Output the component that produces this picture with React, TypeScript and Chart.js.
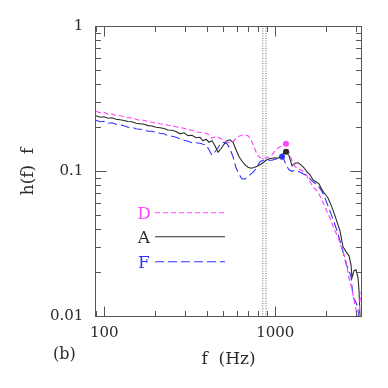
import React, { useEffect, useRef } from "react";
import { Chart, registerables } from "chart.js";

Chart.register(...registerables);

// Frequencies shared by the three curves below ~1 kHz (Hz)
const freqCommon = [
  89.4, 94.4, 99.6, 105.1, 110.9, 117.1, 123.6, 130.4, 137.6, 145.2, 153.2, 161.7, 170.7, 180.1,
  190.1, 200.6, 211.7, 223.4, 235.8, 248.9, 262.6, 277.2, 292.5, 308.7, 325.8, 343.9, 362.8,
  377.8, 393.3, 409.5, 426.4, 444.0, 462.3, 481.4, 501.2, 521.9, 543.4, 565.8, 589.1, 613.4,
  638.7, 665.0, 692.4, 721.0, 750.7, 781.6, 813.8, 847.4, 882.3, 918.7, 956.6, 996.0, 1037,
];

// Series D (magenta dashed)
const hCommonD = [
  0.2601, 0.2541, 0.2561, 0.2481, 0.2501, 0.2431, 0.2423, 0.2392, 0.2347, 0.234, 0.2292, 0.2256,
  0.2256, 0.2203, 0.2185, 0.2168, 0.2134, 0.2117, 0.2084, 0.2067, 0.2035, 0.2003, 0.1987, 0.194,
  0.1925, 0.1865, 0.1865,
  0.1835, 0.1835, 0.1792, 0.1696, 0.1736, 0.1722, 0.1682, 0.1642, 0.1604, 0.1566, 0.1604, 0.1696,
  0.175, 0.1778, 0.1792, 0.1764, 0.1655, 0.1481, 0.1315, 0.1244, 0.1234, 0.1244, 0.1264, 0.1305,
  0.139, 0.1446,
];
const freqTailD = [
  1080, 1124, 1155, 1203, 1252, 1304, 1358, 1414, 1472, 1532, 1596, 1661, 1730, 1801, 1875, 1953,
  2033, 2117, 2204, 2295, 2389, 2488, 2591, 2698, 2771, 2847, 2925, 3005, 3066, 3129, 3200,
];
const hTailD = [
  0.1493, 0.1529, 0.1554, 0.1347, 0.1185, 0.1086, 0.1044, 0.1027, 0.0995, 0.0934, 0.0849, 0.0783,
  0.075, 0.07, 0.0637, 0.057, 0.051, 0.0464, 0.0402, 0.0366, 0.0322, 0.028, 0.024, 0.0185, 0.0164,
  0.0141, 0.012, 0.0104, 0.0088, 0.013, 0.0153,
];

// Series A (black solid)
const hCommonA = [
  0.2423, 0.2365, 0.2384, 0.2328, 0.2347, 0.2292, 0.2274, 0.2245, 0.221, 0.2203, 0.2151, 0.2134,
  0.2117, 0.2073, 0.2061, 0.2019, 0.2003, 0.1977, 0.1934, 0.1925, 0.1885, 0.182, 0.185, 0.1769,
  0.1778, 0.1709, 0.1722,
  0.1629, 0.1668, 0.1591, 0.1629, 0.1505, 0.1358, 0.1435, 0.1541, 0.1629, 0.1655, 0.1591, 0.1413,
  0.1264, 0.1176, 0.1112, 0.107, 0.1053, 0.1065, 0.1086, 0.1112, 0.1148, 0.1195, 0.1225, 0.1234,
  0.1244, 0.1234,
];
const freqTailA = [
  1080, 1124, 1155, 1203, 1252, 1304, 1358, 1414, 1472, 1532, 1596, 1661, 1730, 1801, 1875, 1953,
  2033, 2117, 2204, 2295, 2389, 2488, 2591, 2698, 2771, 2809, 2886, 2965, 3046, 3087, 3129, 3171,
];
const hTailA = [
  0.1284, 0.1347, 0.1368, 0.1284, 0.1095, 0.1139, 0.1148, 0.1112, 0.1061, 0.0995, 0.0949, 0.0876,
  0.0849, 0.0822, 0.0747, 0.07, 0.0657, 0.0589, 0.0518, 0.0449, 0.039, 0.0302, 0.028, 0.0262,
  0.0228, 0.0185, 0.0207, 0.021, 0.0185, 0.0151, 0.00996, 0.0076,
];

// Series F (blue long dashes)
const hCommonF = [
  0.2256, 0.2203, 0.2221, 0.2151, 0.2168, 0.2117, 0.21, 0.2067, 0.2019, 0.2019, 0.1971, 0.1955,
  0.194, 0.1894, 0.1894, 0.1865, 0.1835, 0.182, 0.1764, 0.175, 0.1722, 0.1682, 0.1642, 0.1617,
  0.1578, 0.1578, 0.1566,
  0.1541, 0.1529, 0.1413, 0.1295, 0.1368, 0.1458, 0.1566, 0.1591, 0.1554, 0.1435, 0.1264, 0.1061,
  0.0957, 0.0887, 0.089, 0.0919, 0.0964, 0.1003, 0.1078, 0.1167, 0.1195, 0.1205, 0.1195, 0.1195,
  0.1215, 0.1234,
];
const freqTailF = [
  1094, 1124, 1155, 1203, 1252, 1304, 1358, 1414, 1472, 1532, 1596, 1661, 1730, 1801, 1875, 1953,
  2033, 2117, 2204, 2295, 2389, 2488, 2591, 2698, 2771, 2809, 2847, 2925, 3005, 3046, 3087, 3129,
];
const hTailF = [
  0.1264, 0.1205, 0.1112, 0.1027, 0.1003, 0.1019, 0.1003, 0.098, 0.0957, 0.0934, 0.089, 0.0849,
  0.0822, 0.0783, 0.0729, 0.0657, 0.0579, 0.051, 0.0449, 0.039, 0.0334, 0.028, 0.0231, 0.0207,
  0.0189, 0.016, 0.0137, 0.0129, 0.012, 0.011, 0.01, 0.0093,
];

// Peak markers (D, A, F)
const peakFreq = [1155, 1155, 1094];
const peakH = [0.1554, 0.1368, 0.1264];

// Vertical dotted reference lines (Hz)
const markerFreqs = [845, 882];

// Axis labels
const xTickLabels = [100, 1000];
const yTickLabels = [1, 0.1, 0.01];
const legendNames = ["D", "A", "F"];

const MAGENTA = "rgb(255,70,255)";
const BLACK = "#2b2b2b";
const BLUE = "rgb(50,50,255)";
const AXIS = "#555";
const TEXT = "#2a2a2a";
const FONT = "'DejaVu Serif', serif";

export default function App() {
  const ref = useRef<HTMLCanvasElement>(null);

  useEffect(() => {
    const canvas = ref.current;
    if (!canvas) return;
    const pts = (f: number[], h: number[]) => f.map((x, i) => ({ x, y: h[i] }));
    const dData = pts([...freqCommon, ...freqTailD], [...hCommonD, ...hTailD]);
    const aData = pts([...freqCommon, ...freqTailA], [...hCommonA, ...hTailA]);
    const fData = pts([...freqCommon, ...freqTailF], [...hCommonF, ...hTailF]);
    const colors = [MAGENTA, BLACK, BLUE];

    const decor = {
      id: "decor",
      afterDraw(chart: any) {
        const { ctx, chartArea: a, scales } = chart;
        const xs = scales.x;
        const ys = scales.y;
        const snap = (p: number) => Math.round(p - 0.5) + 0.5;
        ctx.save();
        ctx.strokeStyle = AXIS;
        ctx.lineWidth = 1;
        ctx.setLineDash([]);
        const seg = (x1: number, y1: number, x2: number, y2: number) => {
          ctx.beginPath();
          ctx.moveTo(x1, y1);
          ctx.lineTo(x2, y2);
          ctx.stroke();
        };
        // ticks on x (bottom & top)
        for (const dec of [10, 100, 1000]) {
          for (let m = 1; m < 10; m++) {
            const v = dec * m;
            if (v < xs.min || v > xs.max) continue;
            const px = snap(xs.getPixelForValue(v));
            const len = m === 1 ? 10 : 5.5;
            seg(px, a.bottom, px, a.bottom - len);
            seg(px, a.top, px, a.top + len);
          }
        }
        // ticks on y (left & right)
        for (const dec of [0.01, 0.1]) {
          for (let m = 1; m < 10; m++) {
            const v = dec * m;
            const py = snap(ys.getPixelForValue(v));
            const len = m === 1 ? 11 : 5.5;
            seg(a.left, py, a.left + len, py);
            seg(a.right, py, a.right - len, py);
          }
        }
        ctx.strokeRect(a.left, a.top, a.right - a.left, a.bottom - a.top);

        // legend
        const rows = [
          { y: 212.7, dash: [5, 3] },
          { y: 236.7, dash: [] },
          { y: 261.7, dash: [9, 4] },
        ];
        ctx.font = `17px ${FONT}`;
        ctx.textAlign = "center";
        ctx.textBaseline = "middle";
        rows.forEach((r, i) => {
          ctx.fillStyle = colors[i];
          ctx.fillText(legendNames[i], 144, r.y + 1.5);
          ctx.strokeStyle = colors[i];
          ctx.lineWidth = 1.1;
          ctx.setLineDash(r.dash);
          seg(155, r.y, 225, r.y);
        });
        ctx.setLineDash([]);
        // panel label
        ctx.fillStyle = TEXT;
        ctx.font = `16px ${FONT}`;
        ctx.textAlign = "left";
        ctx.fillText("(b)", 53, 355);
        ctx.restore();
      },
    };

    const isDecade = (v: number, list: number[]) =>
      list.some((t) => Math.abs(Math.log10(v) - Math.log10(t)) < 1e-6);

    const chart = new Chart(canvas, {
      type: "line",
      data: {
        datasets: [
          ...peakFreq.map((f, i) => ({
            data: [{ x: f, y: peakH[i] }],
            showLine: false,
            pointRadius: 3,
            pointBackgroundColor: colors[i],
            pointBorderColor: colors[i],
            pointBorderWidth: 0,
          })),
          {
            data: dData,
            borderColor: MAGENTA,
            borderWidth: 1.2,
            borderDash: [5, 3],
            pointRadius: 0,
            tension: 0,
          },
          {
            data: aData,
            borderColor: BLACK,
            borderWidth: 1.1,
            pointRadius: 0,
            tension: 0,
          },
          {
            data: fData,
            borderColor: BLUE,
            borderWidth: 1.1,
            borderDash: [9, 4],
            pointRadius: 0,
            tension: 0,
          },
          ...markerFreqs.map((f) => ({
            data: [
              { x: f, y: 0.01 },
              { x: f, y: 1 },
            ],
            borderColor: "#707070",
            borderWidth: 1,
            borderDash: [1, 1.5],
            pointRadius: 0,
          })),
        ],
      } as any,
      options: {
        animation: false,
        responsive: false,
        events: [],
        layout: { padding: { left: 0, top: 26.5, right: 26.5, bottom: 0 } },
        plugins: { legend: { display: false }, tooltip: { enabled: false } },
        scales: {
          x: {
            type: "logarithmic",
            min: 88.8,
            max: 3192,
            position: "bottom",
            grid: { display: false, drawTicks: false },
            border: { display: false },
            afterFit: (s: any) => {
              s.height = 71.5;
            },
            ticks: {
              autoSkip: false,
              maxRotation: 0,
              minRotation: 0,
              padding: 8,
              color: TEXT,
              font: { family: FONT, size: 15 },
              callback: (v: any) => (isDecade(Number(v), xTickLabels) ? String(Number(v)) : ""),
            },
            title: {
              display: true,
              text: "f  (Hz)",
              color: TEXT,
              font: { family: FONT, size: 17 },
              padding: { top: 0, bottom: 17.8 },
            },
          },
          y: {
            type: "logarithmic",
            min: 0.01,
            max: 1,
            position: "left",
            grid: { display: false, drawTicks: false },
            border: { display: false },
            afterFit: (s: any) => {
              s.width = 95.5;
            },
            ticks: {
              autoSkip: false,
              padding: 12.2,
              color: TEXT,
              font: { family: FONT, size: 15 },
              callback: (v: any) => {
                const n = Number(v);
                if (!isDecade(n, yTickLabels)) return "";
                return n >= 1 ? "1" : n > 0.05 ? "0.1" : "0.01";
              },
            },
            title: {
              display: true,
              text: "h(f)  f",
              color: TEXT,
              font: { family: FONT, size: 17 },
              padding: { top: 18.3, bottom: 0 },
            },
          },
        },
      } as any,
      plugins: [decor],
    });
    return () => chart.destroy();
  }, []);

  return (
    <div style={{ position: "fixed", left: 0, top: 0, width: 388, height: 388, background: "#fff" }}>
      <canvas ref={ref} width={388} height={388} style={{ display: "block" }} />
    </div>
  );
}
